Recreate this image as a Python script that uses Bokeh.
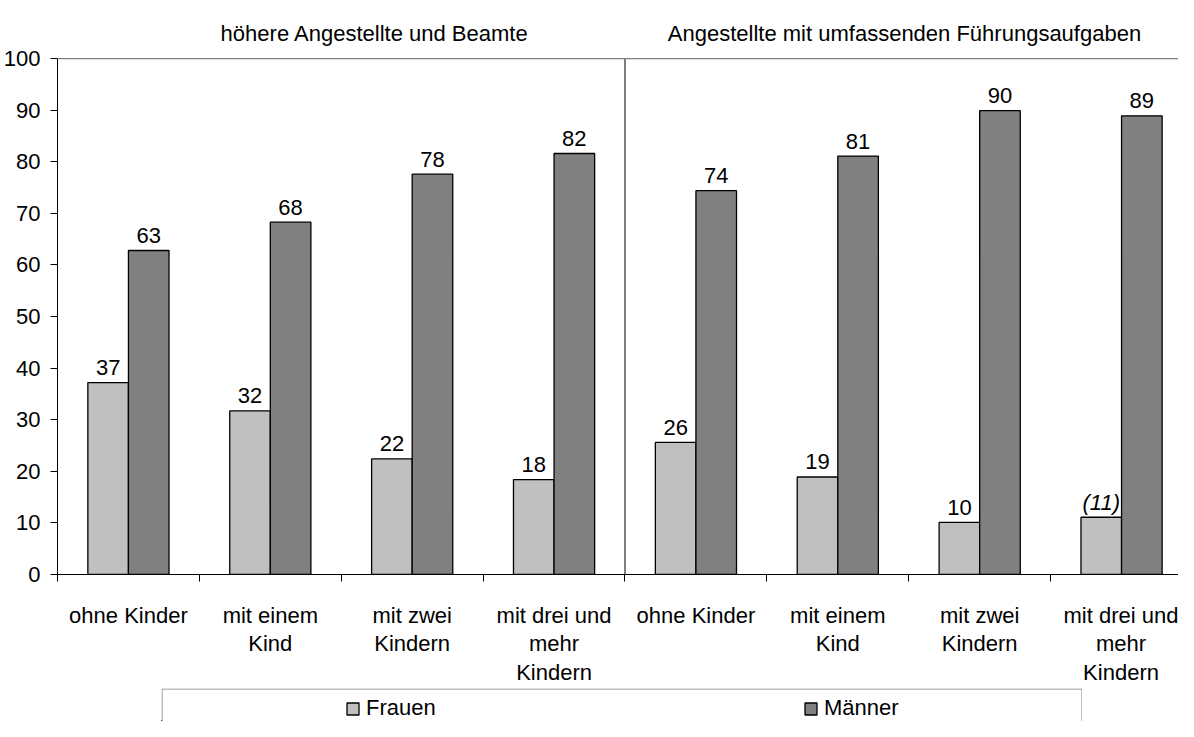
import numpy as np
from bokeh.plotting import figure
from bokeh.models import (Range1d, FixedTicker, Span, Label, Legend, LegendItem,
                          BoxAnnotation, Spacer)
from bokeh.layouts import column, row
from bokeh.embed import file_html
from bokeh.resources import INLINE
from bokeh.core.properties import value

# ---------------- data ----------------
group_titles = ["höhere Angestellte und Beamte",
                "Angestellte mit umfassenden Führungsaufgaben"]
categories = ["ohne Kinder", "mit einem\nKind", "mit zwei\nKindern", "mit drei und\nmehr\nKindern",
              "ohne Kinder", "mit einem\nKind", "mit zwei\nKindern", "mit drei und\nmehr\nKindern"]
frauen = [37.2, 31.7, 22.4, 18.4, 25.6, 18.9, 10.1, 11.1]
maenner = [62.8, 68.3, 77.6, 81.6, 74.4, 81.1, 89.9, 88.9]
frauen_labels = ["37", "32", "22", "18", "26", "19", "10", "(11)"]
maenner_labels = ["63", "68", "78", "82", "74", "81", "90", "89"]
frauen_italic = [False, False, False, False, False, False, False, True]
y_ticks = [0, 10, 20, 30, 40, 50, 60, 70, 80, 90, 100]
series_names = ["Frauen", "Männer"]
colors = ["#C0C0C0", "#808080"]

FONT = "Liberation Sans"
FS = "22px"

n = len(categories)
centers = np.arange(n) + 0.5
bw = 0.286
xf = centers - bw / 2
xm = centers + bw / 2

W, H = 1178, 688
LEFT, BOTTOM = 56, 111
PX_PER_UNIT = 5.186
x_end = (W - LEFT) / 142.0
y_end = (H - BOTTOM) / PX_PER_UNIT

p = figure(width=W, height=H, x_range=Range1d(0, x_end), y_range=Range1d(0, y_end),
           output_backend="svg", toolbar_location=None,
           min_border_left=LEFT, min_border_right=0, min_border_top=0, min_border_bottom=BOTTOM)
p.outline_line_color = None
p.xgrid.visible = False
p.ygrid.visible = False
p.background_fill_color = "white"
p.border_fill_color = "white"

# top border of plot area
p.add_layout(Span(location=y_ticks[-1], dimension="width", line_color="#808080", line_width=1.2))
# divider between the two groups
half = n / 2
p.segment(x0=[half], y0=[y_ticks[0]], x1=[half], y1=[y_ticks[-1]], line_color="black", line_width=1)

p.vbar(x=xf, top=frauen, width=bw, bottom=0, fill_color=colors[0], line_color="black", line_width=1.3)
p.vbar(x=xm, top=maenner, width=bw, bottom=0, fill_color=colors[1], line_color="black", line_width=1.3)

fi = np.array(frauen_italic)
fa = np.array(frauen)
fl = np.array(frauen_labels)
p.text(x=xf[~fi], y=fa[~fi], text=list(fl[~fi]), text_align="center", text_baseline="alphabetic",
       y_offset=-15, text_font=value(FONT), text_font_size=FS, text_color="black")
p.text(x=xf[fi], y=fa[fi], text=list(fl[fi]), text_align="center", text_baseline="alphabetic",
       y_offset=-15, text_font=value(FONT), text_font_size=FS, text_color="black",
       text_font_style="italic")
p.text(x=xm, y=maenner, text=maenner_labels, text_align="center", text_baseline="alphabetic",
       y_offset=-15, text_font=value(FONT), text_font_size=FS, text_color="black")

# group titles
for tx, t in zip([2.236, 5.97], group_titles):
    p.add_layout(Label(x=tx, y=104.84, text=t, text_align="center", text_baseline="alphabetic",
                       text_font=FONT, text_font_size=FS, text_color="black"))

# x axis
xa = p.xaxis[0]
xa.ticker = FixedTicker(ticks=list(centers), minor_ticks=list(range(n + 1)))
xa.major_label_overrides = {float(c): lab for c, lab in zip(centers, categories)}
xa.major_tick_out = 0
xa.major_tick_in = 0
xa.minor_tick_out = 7
xa.minor_tick_in = 0
xa.minor_tick_line_color = "black"
xa.axis_line_color = "black"
xa.major_label_standoff = 21
xa.major_label_text_font = FONT
xa.major_label_text_font_size = FS
xa.major_label_text_color = "black"
xa.major_label_text_line_height = 1.15

# y axis
ya = p.yaxis[0]
ya.ticker = FixedTicker(ticks=y_ticks)
ya.bounds = (y_ticks[0], y_ticks[-1])
ya.major_tick_out = 7
ya.major_tick_in = 0
ya.minor_tick_out = 0
ya.minor_tick_in = 0
ya.axis_line_color = "black"
ya.major_tick_line_color = "black"
ya.major_label_standoff = 10
ya.major_label_text_font = FONT
ya.major_label_text_font_size = FS
ya.major_label_text_color = "black"

# legend (separate strip below the chart)
LW, LH = 921, 33
lf = figure(width=LW, height=LH, x_range=Range1d(0, LW), y_range=Range1d(0, LH),
            output_backend="svg", toolbar_location=None, min_border=0,
            x_axis_type=None, y_axis_type=None)
lf.outline_line_color = None
lf.add_layout(BoxAnnotation(left=0.5, right=LW - 0.5, top=LH - 0.5, bottom=-10,
                            fill_alpha=0, line_color="#808080", line_alpha=1, line_width=1))
# legend proxies (kept outside the visible range)
rf = lf.vbar(x=[-10 * LW], top=[1], width=1, fill_color=colors[0], line_color="black", line_width=1.3)
rm = lf.vbar(x=[-10 * LW], top=[1], width=1, fill_color=colors[1], line_color="black", line_width=1.3)
leg = Legend(items=[LegendItem(label=series_names[0], renderers=[rf]),
                    LegendItem(label=series_names[1], renderers=[rm])],
             orientation="horizontal", location=(184, 0), padding=0, margin=0, spacing=357,
             glyph_width=15, glyph_height=15, label_standoff=6, label_width=80, label_height=15,
             label_text_font=FONT, label_text_font_size=FS, label_text_color="black",
             border_line_color=None, background_fill_alpha=0)
lf.add_layout(leg)

layout = column(p, row(Spacer(width=161, height=LH), lf))
open("out.html", "w").write(file_html(layout, INLINE))
